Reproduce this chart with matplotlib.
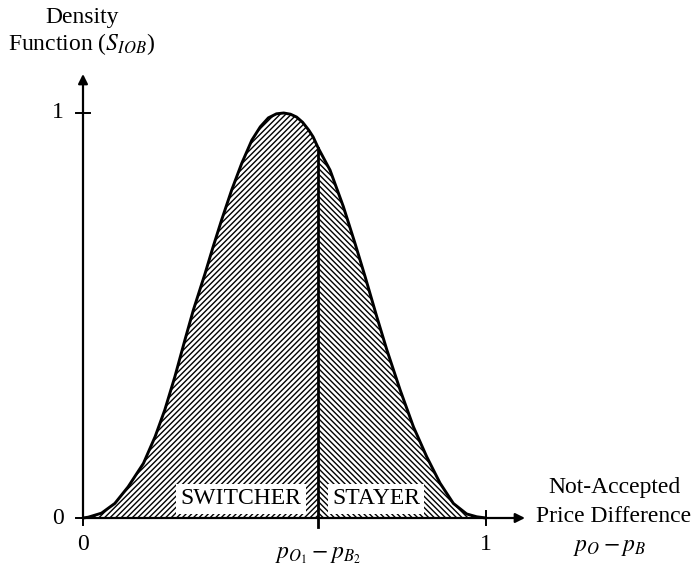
import matplotlib
matplotlib.use("Agg")
import matplotlib.pyplot as plt
import numpy as np

plt.rcParams['font.family'] = ['Liberation Serif', 'DejaVu Serif']
plt.rcParams['mathtext.fontset'] = 'stix'
plt.rcParams['hatch.linewidth'] = 1.0

# Curve: x = not-accepted price difference, y = density
curve_x = [0.000, 0.013, 0.046, 0.079, 0.112, 0.150, 0.179, 0.203, 0.228, 0.253,
           0.274, 0.303, 0.323, 0.344, 0.369, 0.394, 0.419, 0.440, 0.460, 0.480,
           0.498, 0.515, 0.530, 0.545, 0.560, 0.571, 0.584, 0.613, 0.646, 0.675,
           0.700, 0.729, 0.754, 0.787, 0.820, 0.853, 0.886, 0.919, 0.952, 0.977,
           1.000]
curve_y = [0.000, 0.002, 0.012, 0.036, 0.077, 0.135, 0.201, 0.267, 0.349, 0.440,
           0.514, 0.604, 0.670, 0.736, 0.810, 0.876, 0.933, 0.966, 0.988, 0.998,
           1.000, 0.997, 0.990, 0.977, 0.958, 0.941, 0.913, 0.859, 0.769, 0.678,
           0.596, 0.497, 0.415, 0.316, 0.225, 0.151, 0.086, 0.036, 0.010, 0.003,
           0.000]
split_x = 0.584          # p_O1 - p_B2
region_labels = ["SWITCHER", "STAYER"]
y_ticks = [0, 1]
x_ticks = [0, 1]

cx = np.array(curve_x)
cy = np.array(curve_y)

W, H = 696, 571
fig = plt.figure(figsize=(W / 100, H / 100), dpi=100)
ax = fig.add_axes([0, 0, 1, 1])
# pixel mapping: x=0 -> 83px, x=1 -> 486px ; y=0 -> 518px, y=1 -> 113px
x0p, x1p, y0p, y1p = 83, 486, 518, 113
sx = x1p - x0p
sy = y0p - y1p
ax.set_xlim(-x0p / sx, (W - x0p) / sx)
ax.set_ylim(-(H - y0p) / sy, y0p / sy)
ax.axis('off')

left = cx <= split_x
right = cx >= split_x
ax.fill_between(cx[left], cy[left], 0, facecolor='white', edgecolor='black',
                hatch='//////', linewidth=0)
ax.fill_between(cx[right], cy[right], 0, facecolor='white', edgecolor='black',
                hatch='\\' * 6, linewidth=0)
ax.plot(cx, cy, color='black', lw=2.1, solid_joinstyle='round',
        solid_capstyle='round', zorder=4)

split_y = float(np.interp(split_x, cx, cy))
ax.plot([split_x, split_x], [-9 / sy, split_y], color='black', lw=2.0, zorder=4)

# axes with arrows
ax.annotate('', xy=((525 - x0p) / sx, 0), xytext=(0, 0),
            arrowprops=dict(arrowstyle='-|>', lw=1.6, color='black',
                            mutation_scale=14, shrinkA=0, shrinkB=0), zorder=5)
ax.annotate('', xy=(0, (y0p - 74) / sy), xytext=(0, 0),
            arrowprops=dict(arrowstyle='-|>', lw=1.6, color='black',
                            mutation_scale=14, shrinkA=0, shrinkB=0), zorder=5)

# ticks
tl = 7
for t in y_ticks:
    ax.plot([-tl / sx, (tl if t else 0) / sx], [t, t], color='black', lw=1.4)
    ax.text(-(25) / sx, t, str(t), ha='center', va='center', fontsize=17)
for t in x_ticks:
    ax.plot([t, t], [-tl / sy, (tl if t else 0) / sy], color='black', lw=1.4)
    ax.text(t, -(545 - y0p) / sy, str(t), ha='center', va='center', fontsize=17)

ax.text(split_x, -(556 - y0p) / sy, r'$p_{O_1} - p_{B_2}$', ha='center',
        va='center', fontsize=17)

# region labels
bbox = dict(facecolor='white', edgecolor='none', pad=3)
ax.text((241 - x0p) / sx, (y0p - 499) / sy, region_labels[0], ha='center',
        va='center', fontsize=17, bbox=bbox, zorder=3)
ax.text((376 - x0p) / sx, (y0p - 499) / sy, region_labels[1], ha='center',
        va='center', fontsize=17, bbox=bbox, zorder=3)

# axis titles
ax.text((82 - x0p) / sx, (y0p - 17) / sy, 'Density', ha='center', va='center',
        fontsize=17)
ax.text((82 - x0p) / sx, (y0p - 44) / sy, r'Function ($S_{IOB}$)', ha='center',
        va='center', fontsize=17)
ax.text((614 - x0p) / sx, (y0p - 487) / sy, 'Not-Accepted', ha='center',
        va='center', fontsize=17)
ax.text((614 - x0p) / sx, (y0p - 517) / sy, 'Price Difference', ha='center',
        va='center', fontsize=17)
ax.text((610 - x0p) / sx, (y0p - 548) / sy, r'$p_O - p_B$', ha='center',
        va='center', fontsize=17)

fig.savefig('out.png', dpi=100)
